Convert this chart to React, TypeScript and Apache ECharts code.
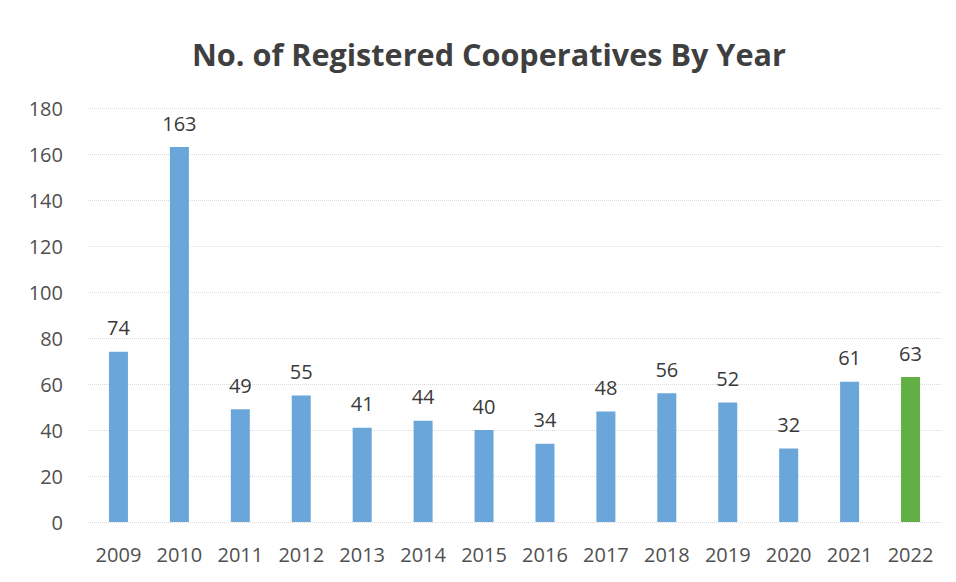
import React, { useEffect, useRef } from "react";
import * as echarts from "echarts";

const years = ["2009", "2010", "2011", "2012", "2013", "2014", "2015", "2016", "2017", "2018", "2019", "2020", "2021", "2022"];
const counts = [74, 163, 49, 55, 41, 44, 40, 34, 48, 56, 52, 32, 61, 63];
const highlightYear = "2022";

export default function App() {
  const ref = useRef<HTMLDivElement>(null);
  useEffect(() => {
    if (!ref.current) return;
    const chart = echarts.init(ref.current, null, { renderer: "svg" });
    const font = "'Open Sans', 'Noto Sans', sans-serif";
    chart.setOption({
      animation: false,
      backgroundColor: "#ffffff",
      title: {
        text: "No. of Registered Cooperatives By Year",
        left: 187,
        top: 33,
        textStyle: { fontFamily: font, fontSize: 30.6, fontWeight: "bold", color: "#3f3f3f" },
      },
      grid: { left: 88, right: 15, top: 108, bottom: 60, containLabel: false },
      xAxis: {
        type: "category",
        data: years,
        axisLine: { show: false },
        axisTick: { show: false },
        axisLabel: { fontFamily: font, fontSize: 20, color: "#505050", margin: 22 },
      },
      yAxis: {
        type: "value",
        min: 0,
        max: 180,
        interval: 20,
        axisLine: { show: false },
        axisTick: { show: false },
        axisLabel: { fontFamily: font, fontSize: 20, color: "#505050", margin: 25 },
        splitLine: { lineStyle: { color: "#d9d9d9", type: "dotted", width: 1 } },
      },
      series: [
        {
          type: "bar",
          barWidth: 19,
          data: counts.map((v, i) => ({
            value: v,
            itemStyle: { color: years[i] === highlightYear ? "#62b045" : "#6aa6da" },
          })),
          label: {
            show: true,
            position: "top",
            distance: 14,
            fontFamily: font,
            fontSize: 20,
            color: "#3a3a3a",
          },
        },
      ],
    });
    return () => chart.dispose();
  }, []);
  return <div ref={ref} style={{ position: "fixed", left: 0, top: 0, width: 956, height: 582 }} />;
}
